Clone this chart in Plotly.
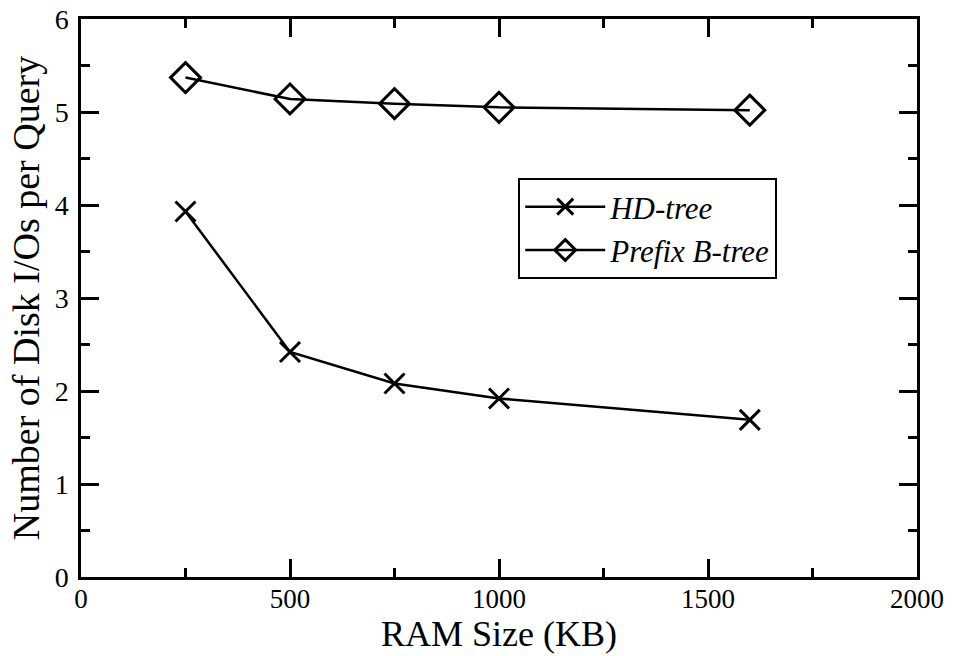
import plotly.graph_objects as go

ram_kb = [250, 500, 750, 1000, 1600]
hd_tree = [3.93, 2.42, 2.08, 1.92, 1.69]
prefix_btree = [5.37, 5.14, 5.09, 5.05, 5.02]

FONT = "Liberation Serif"

fig = go.Figure()
fig.add_trace(go.Scatter(
    x=ram_kb, y=hd_tree, mode="lines+markers", name="HD-tree",
    line=dict(color="black", width=2.5),
    marker=dict(symbol="x-thin-open", size=20, color="black",
                line=dict(color="black", width=3)),
))
fig.add_trace(go.Scatter(
    x=ram_kb, y=prefix_btree, mode="lines+markers", name="Prefix B-tree",
    line=dict(color="black", width=2.5),
    marker=dict(symbol="diamond-open", size=23, color="black",
                line=dict(color="black", width=3)),
))

axis_common = dict(
    showgrid=False, zeroline=False, showline=True, linecolor="black",
    linewidth=2.5, mirror="ticks", ticks="inside", ticklen=18, tickwidth=2.5,
    tickcolor="black", automargin=False,
)

fig.update_xaxes(
    range=[0, 2000], tickvals=[0, 500, 1000, 1500, 2000],
    minor=dict(dtick=250, ticks="inside", ticklen=9, tickwidth=2.5, tickcolor="black"),
    tickfont=dict(family=FONT, size=27, color="black"),
    title=dict(text="RAM Size (KB)", font=dict(family=FONT, size=36, color="black"), standoff=7),
    ticklabelstandoff=-4,
    **axis_common,
)
fig.update_yaxes(
    range=[0, 6], tickvals=[0, 1, 2, 3, 4, 5, 6],
    minor=dict(dtick=0.5, ticks="inside", ticklen=9, tickwidth=2.5, tickcolor="black"),
    tickfont=dict(family=FONT, size=28, color="black"),
    title=dict(text="Number of Disk I/Os per Query", font=dict(family=FONT, size=38, color="black"), standoff=4),
    ticklabelstandoff=4,
    **axis_common,
)

fig.update_layout(
    width=954, height=656,
    margin=dict(l=81, r=37, t=19, b=79, autoexpand=False),
    paper_bgcolor="white", plot_bgcolor="white",
    showlegend=True,
    legend=dict(
        x=0.523, y=0.715, xanchor="left", yanchor="top",
        bordercolor="black", borderwidth=2, bgcolor="white",
        font=dict(family=FONT, size=31, color="black", style="italic"),
        itemwidth=80, tracegroupgap=0,
    ),
)

fig.write_html("out.html", config={"displayModeBar": False},
               post_script="document.body.style.margin='0';")
